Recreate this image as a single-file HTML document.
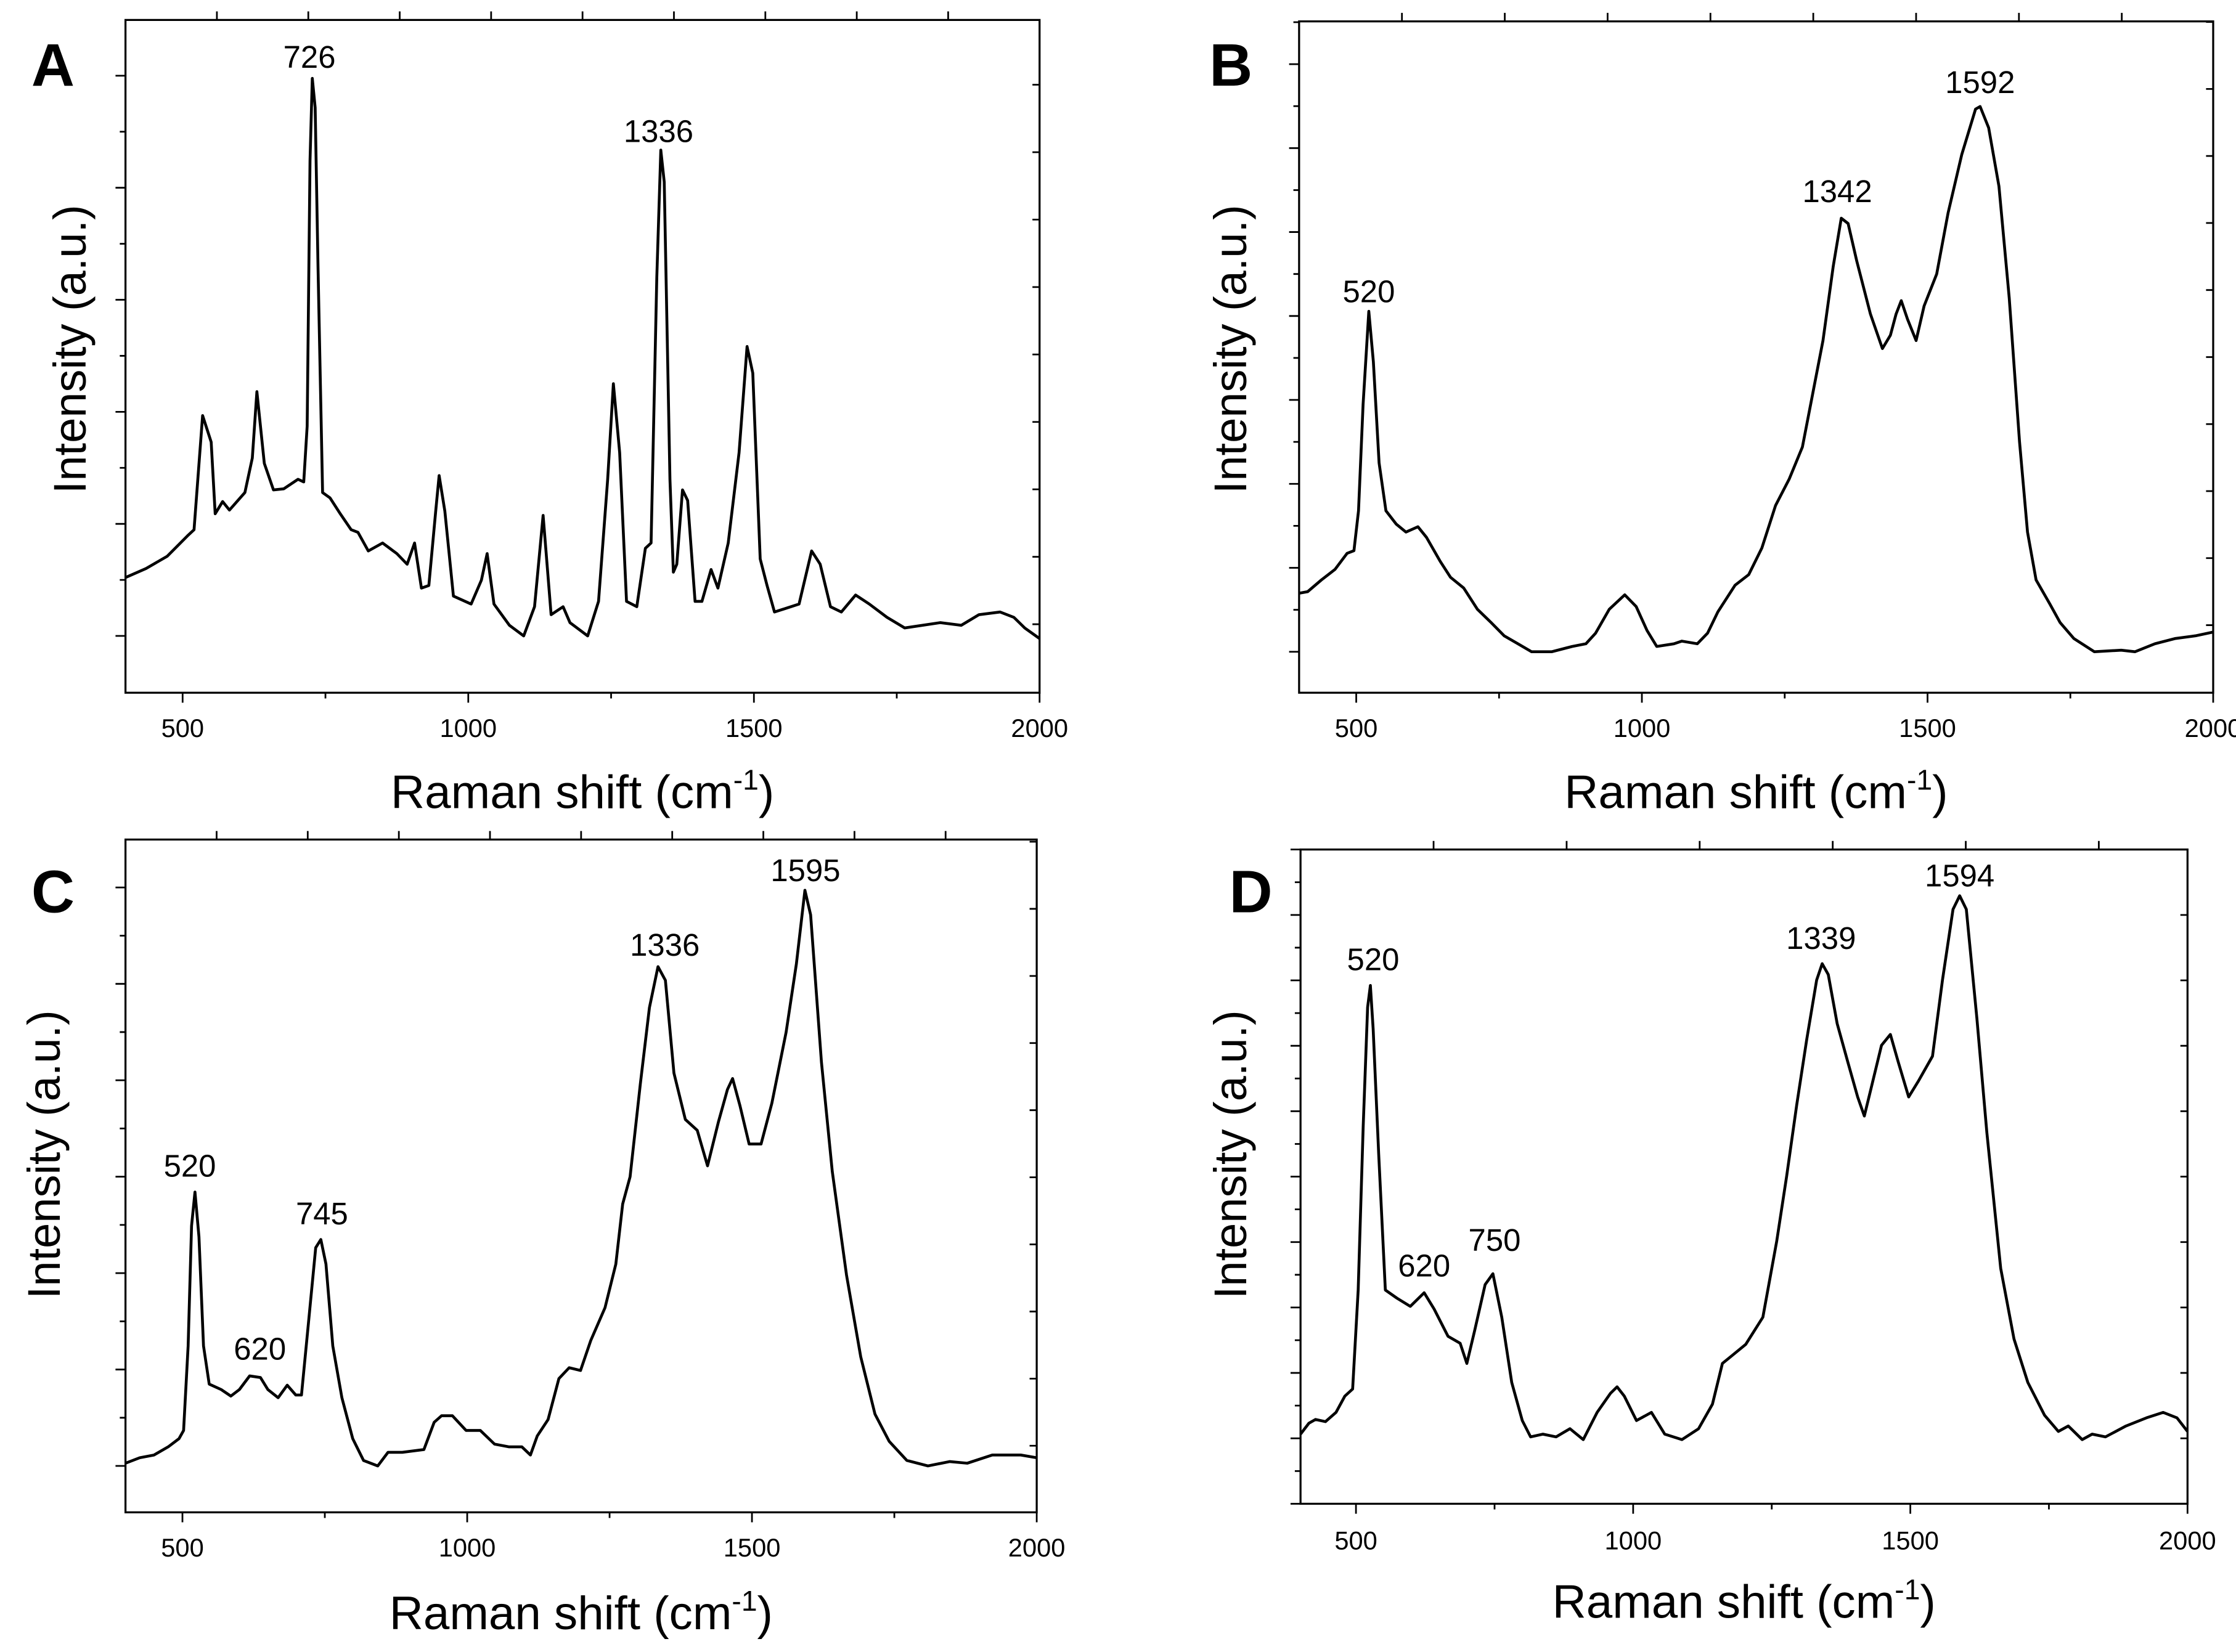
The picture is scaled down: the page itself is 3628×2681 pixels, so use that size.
<!DOCTYPE html>
<html><head><meta charset="utf-8"><style>
html,body{margin:0;padding:0;background:#fff;}
svg{display:block;}
text{font-family:"Liberation Sans",Arial,sans-serif;fill:#000;}
</style></head>
<body>
<svg id="fig" width="3628" height="2681" viewBox="0 0 1568 1159" preserveAspectRatio="none" xmlns="http://www.w3.org/2000/svg"></svg>
<script>
// ---- Data (wavenumber cm-1, intensity a.u.) ----
const wnA=[400,436,473,510,520,535,550,557,570,582,609,622,630,643,659,677,702,712,718,723,727,732,737,745,758,776,795,807,825,850,875,893,906,918,931,943,949,959,974,1005,1023,1033,1045,1072,1097,1116,1131,1145,1166,1178,1209,1228,1244,1254,1265,1277,1295,1310,1320,1330,1337,1343,1353,1359,1365,1375,1384,1397,1409,1425,1437,1455,1474,1488,1498,1511,1523,1536,1579,1601,1616,1634,1653,1678,1702,1733,1764,1826,1863,1894,1931,1955,1974,2000];
const intA=[217,234,257,297,307,522,472,337,360,344,377,442,567,432,382,384,402,397,502,1002,1157,1102,802,377,367,337,307,302,267,282,262,242,282,197,202,342,409,342,182,167,212,262,167,127,107,162,334,147,162,132,107,172,402,582,452,172,162,272,282,782,1022,962,402,227,242,382,362,172,172,232,197,282,452,652,602,252,202,152,167,267,242,162,152,184,167,142,122,132,127,147,152,142,122,102];
const wnB=[400,415,439,463,484,496,504,512,522,530,540,552,570,587,608,623,647,665,688,712,736,759,783,807,842,878,902,919,943,970,990,1009,1026,1056,1070,1097,1115,1133,1163,1187,1210,1234,1258,1281,1299,1317,1335,1349,1361,1376,1400,1421,1435,1445,1454,1465,1480,1494,1516,1536,1560,1584,1592,1607,1625,1643,1661,1675,1690,1714,1732,1756,1792,1839,1863,1898,1934,1969,2000];
const intB=[187,190,212,232,262,267,342,542,717,622,432,342,317,302,312,292,247,217,197,157,132,107,92,77,77,87,92,112,157,184,162,117,87,92,97,92,112,152,202,222,272,352,402,462,562,662,802,892,882,812,712,647,672,712,737,702,662,727,787,902,1012,1097,1102,1062,952,742,472,302,212,167,132,102,77,80,77,92,102,107,114];
const wnC=[400,425,450,475,494,502,510,516,522,529,537,547,568,585,600,618,637,650,668,684,699,709,722,734,743,752,764,780,799,818,843,861,886,924,942,955,974,998,1023,1048,1073,1096,1111,1123,1142,1161,1179,1199,1217,1242,1261,1273,1286,1304,1320,1335,1348,1363,1383,1404,1422,1441,1457,1466,1479,1495,1516,1535,1560,1578,1593,1603,1622,1641,1666,1691,1716,1741,1772,1809,1847,1878,1922,1972,2000];
const intC=[90,100,105,120,135,150,305,525,587,505,305,235,225,213,225,250,247,225,210,233,215,215,355,485,500,455,305,210,135,95,85,110,110,115,165,177,177,150,150,125,120,120,105,140,170,245,265,260,315,375,455,565,615,785,925,1000,975,805,720,700,635,715,775,795,745,675,675,750,880,1005,1140,1095,825,625,435,285,180,130,95,85,93,90,105,105,100];
const wnD=[400,415,427,445,464,480,494,504,513,521,526,531,541,553,574,598,623,641,666,688,700,714,733,747,763,781,800,815,837,861,886,910,935,959,971,984,1006,1033,1057,1088,1118,1143,1161,1179,1203,1234,1259,1277,1295,1313,1331,1341,1352,1368,1387,1405,1417,1429,1448,1464,1478,1497,1515,1540,1558,1577,1589,1601,1620,1638,1663,1687,1712,1742,1767,1785,1810,1828,1852,1889,1926,1956,1981,2000];
const intD=[128,148,155,151,168,198,211,393,693,913,953,873,643,393,378,363,388,358,308,295,258,318,403,423,343,223,153,123,128,123,138,118,168,203,215,198,153,168,128,118,138,183,258,273,293,343,483,603,733,853,963,993,973,883,813,748,713,763,843,863,813,748,778,823,963,1093,1118,1093,893,683,433,303,223,163,133,143,118,128,123,143,158,168,158,133];
const labelTextA=["726","1336"], labelWnA=[722,1333], labelIntA=[1177,1037];
const labelTextB=["520","1342","1592"], labelWnB=[522,1342,1592], labelIntB=[734,922,1127];
const labelTextC=["520","620","745","1336","1595"], labelWnC=[513,636,745,1347,1594], labelIntC=[615,280,528,1020,1157];
const labelTextD=["520","620","750","1339","1594"], labelWnD=[531,623,750,1339,1589], labelIntD=[981,418,465,1020,1135];
const xTickLabels=["500","1000","1500","2000"];
const xTickValues=[500,1000,1500,2000];

const NS="http://www.w3.org/2000/svg";
const svg=document.getElementById('fig');
function mk(tag,attrs,parent){const e=document.createElementNS(NS,tag);for(const k in attrs)e.setAttribute(k,attrs[k]);(parent||svg).appendChild(e);return e;}

const panels=[
 {id:'a',letter:'A',wn:wnA,it:intA,lt:labelTextA,lw:labelWnA,li:labelIntA,l:88,t:14,r:729,b:486,yMax:1267,
  lStart:107,lStep:211,rStart:129,rStep:127,topStep:160,letterX:22,letterY:60,ytX:60,ytY:245,xtY:567,tickY:517},
 {id:'b',letter:'B',wn:wnB,it:intB,lt:labelTextB,lw:labelWnB,li:labelIntB,l:911,t:15,r:1552,b:486,yMax:1262,
  lStart:77,lStep:157.8,rStart:127,rStep:126,topStep:180,letterX:848,letterY:60,ytX:874,ytY:245,xtY:567,tickY:517},
 {id:'c',letter:'C',wn:wnC,it:intC,lt:labelTextC,lw:labelWnC,li:labelIntC,l:88,t:589,r:727,b:1061,yMax:1233,
  lStart:85,lStep:176.7,rStart:122,rStep:123,topStep:160,letterX:22,letterY:640,ytX:42,ytY:810,xtY:1143,tickY:1092},
 {id:'d',letter:'D',wn:wnD,it:intD,lt:labelTextD,lw:labelWnD,li:labelIntD,l:912,t:596,r:1534,b:1055,yMax:1203,
  lStart:0,lStep:120.3,rStart:0,rStep:120.3,topStep:240,letterX:862,letterY:640,ytX:874,ytY:810,xtY:1135,tickY:1087}
];

panels.forEach(p=>{
  const g=mk('g',{});
  
  
  const xs=v=>p.l+(v-400)/1600*(p.r-p.l);
  const ys=v=>p.b-v/p.yMax*(p.b-p.t);
  const fr=mk('rect',{x:p.l,y:p.t,width:p.r-p.l,height:p.b-p.t,fill:'none',stroke:'#000','stroke-width':1.4},g);
  
  
  let d='';
  for(let v=500;v<=2000;v+=250){const maj=(v%500===0);d+=`M${xs(v)},${p.b}v${maj?7:4}`;}
  for(let v=400+p.topStep;v<2000;v+=p.topStep){d+=`M${xs(v)},${p.t}v-6`;}
  for(let k=0;;k++){const v=p.lStart+k*p.lStep/2;if(v>p.yMax)break;d+=`M${p.l},${ys(v)}h${k%2===0?-7:-4}`;}
  for(let k=0;;k++){const v=p.rStart+k*p.rStep;if(v>p.yMax)break;d+=`M${p.r},${ys(v)}h-5`;}
  const tk=mk('path',{d:d,stroke:'#000','stroke-width':1.2,fill:'none'},g);
  
  
  xTickValues.forEach((v,i)=>{
    const t=mk('text',{x:xs(v),y:p.tickY,'font-size':18,'text-anchor':'middle'},g);
    t.textContent=xTickLabels[i];
    
    
  });
  const xt=mk('text',{x:(p.l+p.r)/2,y:p.xtY,'font-size':33,'text-anchor':'middle'},g);
  xt.innerHTML='Raman shift (cm<tspan font-size="20" dy="-13">-1</tspan><tspan dy="13">)</tspan>';
  
  
  const yt=mk('text',{x:0,y:0,'font-size':32,'text-anchor':'middle',transform:`translate(${p.ytX},${p.ytY}) rotate(-90)`},g);
  yt.textContent='Intensity (a.u.)';
  
  
  const lt=mk('text',{x:p.letterX,y:p.letterY,'font-size':42,'font-weight':'bold'},g);
  lt.textContent=p.letter;
  
  
  const pts=p.wn.map((w,i)=>xs(w).toFixed(2)+','+ys(p.it[i]).toFixed(2)).join(' ');
  const ln=mk('polyline',{points:pts,fill:'none',stroke:'#000','stroke-width':2,'stroke-linejoin':'round'},g);
  
  
  p.lt.forEach((s,i)=>{
    const t=mk('text',{x:xs(p.lw[i]),y:ys(p.li[i]),'font-size':22,'text-anchor':'middle'},g);
    t.textContent=s;
    
    
  });
});
</script>
</body></html>
